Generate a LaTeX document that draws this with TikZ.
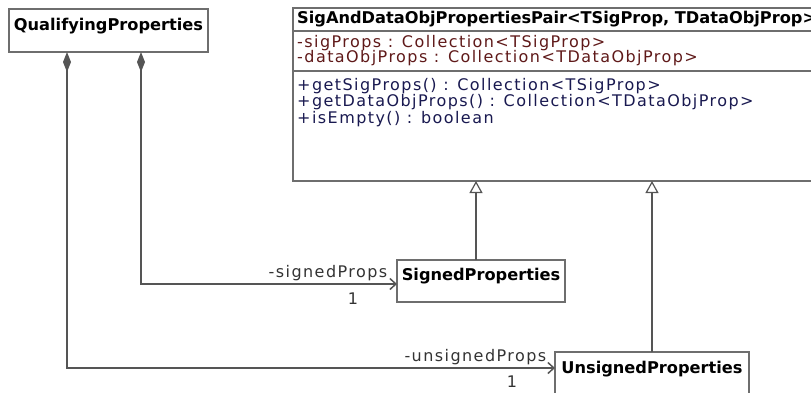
\documentclass[tikz,border=0pt]{standalone}
\usepackage{fontspec}
\setmainfont{DejaVu Sans}
\newfontfamily\umlplain{DejaVu Sans}[LetterSpace=9]
\usetikzlibrary{positioning,arrows.meta}
\definecolor{framegray}{RGB}{110,110,110}
\definecolor{linegray}{RGB}{85,85,85}
\definecolor{attrred}{RGB}{95,25,25}
\definecolor{opblue}{RGB}{25,25,80}

\begin{document}
\begin{tikzpicture}[x=1pt,y=-1pt,
  cls/.style={rectangle,draw=framegray,line width=1.5pt,outer sep=0pt,anchor=north west},
  clsname/.style={font=\fontsize{16.2}{18}\selectfont\bfseries,inner sep=0pt},
  members/.style={font=\fontsize{16}{15.5}\selectfont\umlplain,align=left,inner sep=0pt,anchor=north west},
  role/.style={font=\fontsize{16}{18}\selectfont\umlplain,text=black!80,inner sep=0pt},
  assoc/.style={draw=linegray,line width=1.5pt,{Diamond[length=20pt,width=8pt,fill=linegray]}-{Straight Barb[length=6pt,width=11pt]}},
  inherit/.style={draw=linegray,line width=1.2pt,-{Triangle[open,length=12pt,width=13pt,fill=white]}}]
\useasboundingbox (0,0) rectangle (811,392);

% classes
\node (qp) at (9,9) [cls,minimum width=199pt,minimum height=43pt] {};
\node (qpname) [clsname,below=9pt of qp.north] {QualifyingProperties};

\node (sdp) at (293,8) [cls,minimum width=522pt,minimum height=173pt] {};
\draw [framegray,line width=1.5pt] (sdp.west |- 0,31) -- (sdp.east |- 0,31);
\draw [framegray,line width=1.5pt] (sdp.west |- 0,71) -- (sdp.east |- 0,71);
\node (sdpname) at ([xshift=4pt,yshift=-11pt]sdp.north west) [clsname,anchor=west] {SigAndDataObjPropertiesPair<TSigProp, TDataObjProp>};
\node (sdpattr) at ([xshift=4pt,yshift=-27pt]sdp.north west) [members,text=attrred] {-sigProps : Collection<TSigProp>\\-dataObjProps : Collection<TDataObjProp>};
\node (sdpops) at ([xshift=4pt,yshift=-70pt]sdp.north west) [members,text=opblue,font=\fontsize{16}{16.5}\selectfont\umlplain] {+getSigProps() : Collection<TSigProp>\\+getDataObjProps() : Collection<TDataObjProp>\\+isEmpty() : boolean};

\node (sp) at (397,260) [cls,minimum width=168pt,minimum height=42pt] {};
\node (spname) [clsname,below=8pt of sp.north] {SignedProperties};

\node (usp) at (555,352) [cls,minimum width=194pt,minimum height=44pt] {};
\node (uspname) [clsname,below=9pt of usp.north] {UnsignedProperties};

% generalisations
\coordinate (spgen) at ([xshift=79pt]sp.north west);
\draw [inherit] (spgen) -- (spgen |- sdp.south);
\draw [inherit] (usp.north) -- (usp.north |- sdp.south);

% compositions
\draw [assoc] ([xshift=132pt]qp.south west) |- ([yshift=-24pt]sp.north west)
  node [role,pos=1,anchor=south east,xshift=-9pt,yshift=2pt] {-signedProps}
  node [role,pos=1,xshift=-44pt,yshift=-15pt] {1};
\draw [assoc] ([xshift=58pt]qp.south west) |- ([yshift=-16pt]usp.north west)
  node [role,pos=1,anchor=south east,xshift=-8pt,yshift=2pt] {-unsignedProps}
  node [role,pos=1,xshift=-43pt,yshift=-14pt] {1};

\end{tikzpicture}
\end{document}
